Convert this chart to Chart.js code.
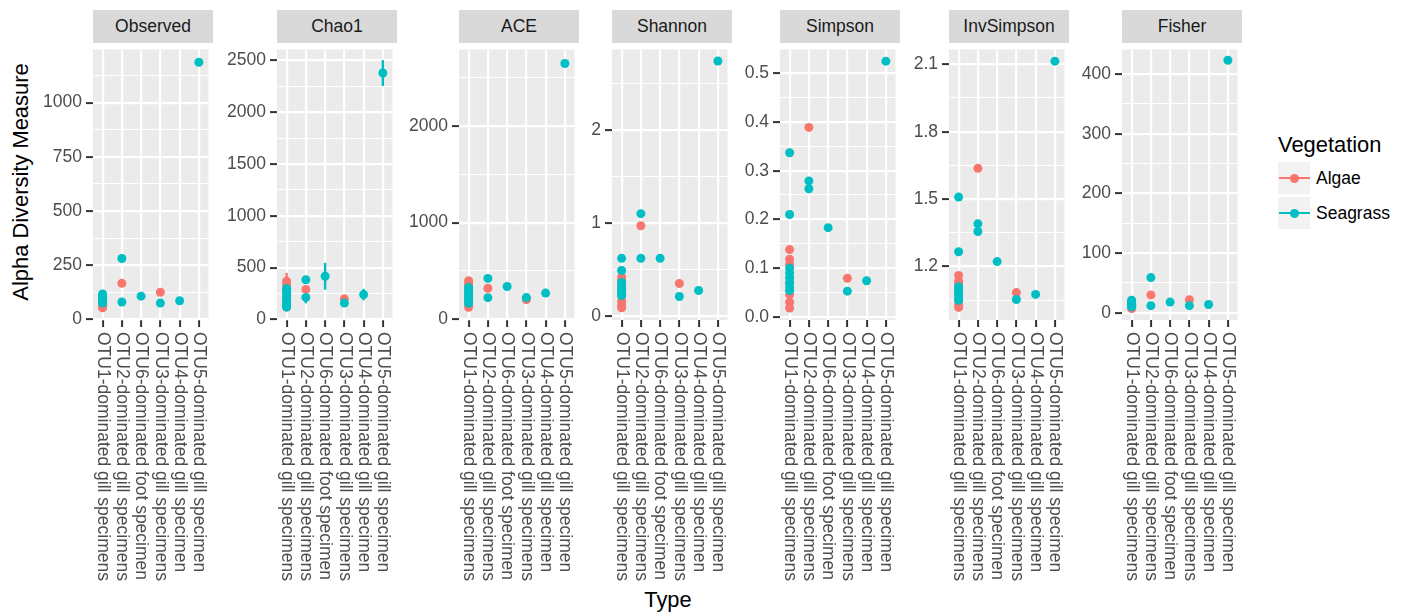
<!DOCTYPE html>
<html lang="en">
  <head>
    <meta charset="UTF-8" />
    <title>Alpha Diversity Measure</title>
    <script src="https://cdn.jsdelivr.net/npm/chart.js"></script>
    <style>
      body { margin: 0; background: #fff; font-family: "Liberation Sans", Arial, sans-serif; }
      #wrap { position: relative; width: 1406px; height: 612px; overflow: hidden; }
      .strip {
        position: absolute; top: 10px; width: 120px; height: 33px; line-height: 33px;
        background: #d9d9d9; color: #1a1a1a; font-size: 17.5px; text-align: center;
      }
      canvas.panel { position: absolute; top: 45px; }
      .title { position: absolute; font-size: 21.9px; color: #000; line-height: 26px; text-align: center; }
      .key { position: absolute; left: 1278px; width: 32px; height: 32px; background: #f2f2f2; }
      .key .line { position: absolute; left: 1px; top: 15px; width: 31px; height: 2.2px; }
      .key .dot { position: absolute; left: 11.5px; top: 11.5px; width: 9px; height: 9px; border-radius: 50%; }
      .keylabel { position: absolute; left: 1316px; font-size: 17.5px; line-height: 32px; color: #000; }
    </style>
  </head>
  <body>
    <div id="wrap">
      <div class="title" style="left: 568px; top: 587px; width: 200px">Type</div>
      <div class="title" style="left: -129px; top: 169px; width: 300px; transform: rotate(-90deg)">
        Alpha Diversity Measure
      </div>
      <div class="title" style="left: 1278px; top: 132px; text-align: left">Vegetation</div>
      <div class="key" style="top: 162px"><div class="line" style="background: #f8766d"></div><div class="dot" style="background: #f8766d"></div></div>
      <div class="key" style="top: 197px"><div class="line" style="background: #00bfc4"></div><div class="dot" style="background: #00bfc4"></div></div>
      <div class="keylabel" style="top: 162px">Algae</div>
      <div class="keylabel" style="top: 197px">Seagrass</div>
    </div>
    <script>
      const types = [
        "OTU1-dominated gill specimens",
        "OTU2-dominated gill specimens",
        "OTU6-dominated foot specimen",
        "OTU3-dominated gill specimens",
        "OTU4-dominated gill specimen",
        "OTU5-dominated gill specimen",
      ];

      // values per type (one inner list per category)
      const observedAlgae = [[53, 57, 62, 68, 75, 85, 95], [166], [], [125], [], []];
      const observedSeagrass = [[117, 110, 104, 98, 92, 86, 80, 75], [281, 80], [107], [75], [86], [1186]];

      const chao1Algae = [[370, 335, 300, 260, 210, 160, 120], [290], [], [199], [], []];
      const chao1AlgaeSe = [[80, 55, 45, 35, 25, 15, 10], [15], [], [10], [], []];
      const chao1Seagrass = [[300, 270, 240, 210, 180, 155, 135, 120], [383, 213], [417], [158], [240], [2378]];
      const chao1SeagrassSe = [[55, 40, 30, 25, 20, 15, 12, 10], [15, 57], [130], [10], [55], [125]];

      const aceAlgae = [[400, 375, 340, 290, 220, 150, 125], [321], [], [203], [], []];
      const aceSeagrass = [[330, 300, 270, 245, 220, 200, 180, 165], [423, 224], [339], [225], [271], [2645]];

      const shannonAlgae = [[0.42, 0.38, 0.3, 0.22, 0.16, 0.12, 0.09], [0.97], [], [0.35], [], []];
      const shannonSeagrass = [[0.62, 0.49, 0.36, 0.33, 0.3, 0.27, 0.24, 0.22], [1.1, 0.62], [0.62], [0.21], [0.275], [2.738]];

      const simpsonAlgae = [[0.138, 0.118, 0.108, 0.07, 0.045, 0.03, 0.018], [0.389], [], [0.079], [], []];
      const simpsonSeagrass = [[0.337, 0.21, 0.1, 0.09, 0.08, 0.07, 0.062, 0.054], [0.279, 0.263], [0.183], [0.0525], [0.074], [0.525]];

      const invSimpsonAlgae = [[1.16, 1.135, 1.12, 1.08, 1.05, 1.03, 1.018], [1.637], [], [1.084], [], []];
      const invSimpsonSeagrass = [[1.509, 1.266, 1.11, 1.1, 1.09, 1.08, 1.065, 1.05], [1.39, 1.356], [1.222], [1.053], [1.076], [2.114]];

      const fisherAlgae = [[7, 8, 9, 10, 11, 12, 13], [30], [], [22], [], []];
      const fisherSeagrass = [[21, 19, 17, 15, 14, 12, 11, 10], [59, 12], [18], [12], [14], [423]];

      // tick labels
      const observedTicks = ["0", "250", "500", "750", "1000"];
      const chao1Ticks = ["0", "500", "1000", "1500", "2000", "2500"];
      const aceTicks = ["0", "1000", "2000"];
      const shannonTicks = ["0", "1", "2"];
      const simpsonTicks = ["0.0", "0.1", "0.2", "0.3", "0.4", "0.5"];
      const invSimpsonTicks = ["1.2", "1.5", "1.8", "2.1"];
      const fisherTicks = ["0", "100", "200", "300", "400"];

      const algaeColor = "#f8766d";
      const seagrassColor = "#00bfc4";
      const fontFamily = '"Liberation Sans", Arial, sans-serif';

      const panels = [
        { name: "Observed", left: 93, min: -3, max: 1245, ticks: observedTicks, algae: observedAlgae, seagrass: observedSeagrass },
        { name: "Chao1", left: 277, min: -5, max: 2605, ticks: chao1Ticks, algae: chao1Algae, seagrass: chao1Seagrass, algaeSe: chao1AlgaeSe, seagrassSe: chao1SeagrassSe },
        { name: "ACE", left: 459, min: -7, max: 2790, ticks: aceTicks, algae: aceAlgae, seagrass: aceSeagrass },
        { name: "Shannon", left: 612, min: -0.042, max: 2.862, ticks: shannonTicks, algae: shannonAlgae, seagrass: shannonSeagrass },
        { name: "Simpson", left: 780, min: -0.0067, max: 0.549, ticks: simpsonTicks, algae: simpsonAlgae, seagrass: simpsonSeagrass },
        { name: "InvSimpson", left: 949, min: 0.962, max: 2.166, ticks: invSimpsonTicks, algae: invSimpsonAlgae, seagrass: invSimpsonSeagrass },
        { name: "Fisher", left: 1122, min: -12, max: 441, ticks: fisherTicks, algae: fisherAlgae, seagrass: fisherSeagrass },
      ];

      function toPoints(groups, errs) {
        const pts = [];
        groups.forEach((vals, i) => {
          vals.forEach((v, j) => pts.push({ x: types[i], y: v, se: errs ? errs[i][j] : 0 }));
        });
        return pts;
      }

      const panelBg = {
        id: "panelBg",
        beforeDraw(chart) {
          const a = chart.chartArea;
          chart.ctx.fillStyle = "#ebebeb";
          chart.ctx.fillRect(a.left, a.top, a.right - a.left, a.bottom - a.top);
        },
      };

      const errorBars = {
        id: "errorBars",
        beforeDatasetsDraw(chart) {
          const ctx = chart.ctx;
          const sx = chart.scales.x;
          const sy = chart.scales.y;
          chart.data.datasets.forEach((ds) => {
            ctx.save();
            ctx.strokeStyle = ds.backgroundColor;
            ctx.lineWidth = 2.4;
            ds.data.forEach((p) => {
              if (!p.se) return;
              const px = sx.getPixelForValue(types.indexOf(p.x));
              ctx.beginPath();
              ctx.moveTo(px, sy.getPixelForValue(p.y - p.se));
              ctx.lineTo(px, sy.getPixelForValue(p.y + p.se));
              ctx.stroke();
            });
            ctx.restore();
          });
        },
      };

      // x labels read top to bottom, so they are drawn here instead of by the axis
      const xLabels = {
        id: "xLabels",
        afterDraw(chart) {
          const ctx = chart.ctx;
          const sx = chart.scales.x;
          const top = chart.chartArea.bottom + 12;
          ctx.save();
          ctx.font = "17.5px " + fontFamily;
          ctx.fillStyle = "#4d4d4d";
          ctx.textAlign = "left";
          ctx.textBaseline = "middle";
          types.forEach((t, i) => {
            ctx.save();
            ctx.translate(sx.getPixelForValue(i), top);
            ctx.rotate(Math.PI / 2);
            ctx.fillText(t, 0, 0);
            ctx.restore();
          });
          ctx.restore();
        },
      };

      const wrap = document.getElementById("wrap");

      panels.forEach((p) => {
        const strip = document.createElement("div");
        strip.className = "strip";
        strip.style.left = p.left + "px";
        strip.textContent = p.name;
        wrap.appendChild(strip);

        const canvas = document.createElement("canvas");
        canvas.className = "panel";
        canvas.width = 180;
        canvas.height = 545;
        canvas.style.left = p.left - 60 + "px";
        wrap.appendChild(canvas);

        const majors = p.ticks.map(Number);
        const step = majors[1] - majors[0];
        const minors = [];
        for (let i = -1; i < majors.length; i++) {
          const m = majors[0] + (i + 0.5) * step;
          if (m > p.min && m < p.max) minors.push(m);
        }
        const isMajor = (v) => majors.some((m) => Math.abs(m - v) < step * 1e-6);
        const labelFor = (v) => {
          const k = majors.findIndex((m) => Math.abs(m - v) < step * 1e-6);
          return k >= 0 ? p.ticks[k] : "";
        };

        new Chart(canvas, {
          type: "scatter",
          data: {
            datasets: [
              {
                label: "Seagrass",
                data: toPoints(p.seagrass, p.seagrassSe),
                backgroundColor: seagrassColor,
                borderColor: seagrassColor,
                pointRadius: 4.5,
                pointBorderWidth: 0,
                order: 1,
              },
              {
                label: "Algae",
                data: toPoints(p.algae, p.algaeSe),
                backgroundColor: algaeColor,
                borderColor: algaeColor,
                pointRadius: 4.5,
                pointBorderWidth: 0,
                order: 2,
              },
            ],
          },
          options: {
            responsive: false,
            animation: false,
            events: [],
            devicePixelRatio: 1,
            layout: { padding: 0 },
            plugins: { legend: { display: false }, tooltip: { enabled: false } },
            scales: {
              x: {
                type: "category",
                labels: types,
                offset: true,
                afterFit(scale) {
                  scale.height = 270;
                  scale.paddingLeft = 0;
                  scale.paddingRight = 0;
                },
                border: { display: false },
                grid: { color: "#ffffff", lineWidth: 2.2, offset: false, tickLength: 7, tickColor: "#333333", tickWidth: 2 },
                ticks: { display: false, autoSkip: false },
              },
              y: {
                type: "linear",
                min: p.min,
                max: p.max,
                afterBuildTicks(scale) {
                  scale.ticks = majors.concat(minors).sort((a, b) => a - b).map((v) => ({ value: v }));
                },
                afterFit(scale) {
                  scale.width = 60;
                  scale.paddingTop = 0;
                  scale.paddingBottom = 0;
                },
                border: { display: false },
                grid: {
                  color: "#ffffff",
                  lineWidth: (c) => (c.tick && !isMajor(c.tick.value) ? 1.1 : 2.2),
                  tickColor: (c) => (c.tick && isMajor(c.tick.value) ? "#333333" : "rgba(0,0,0,0)"),
                  tickLength: 7,
                  tickWidth: 2,
                },
                ticks: {
                  autoSkip: false,
                  padding: 4,
                  color: "#4d4d4d",
                  font: { size: 17.5, family: fontFamily },
                  callback: (v) => labelFor(v),
                },
              },
            },
          },
          plugins: [panelBg, errorBars, xLabels],
        });
      });
    </script>
  </body>
</html>
